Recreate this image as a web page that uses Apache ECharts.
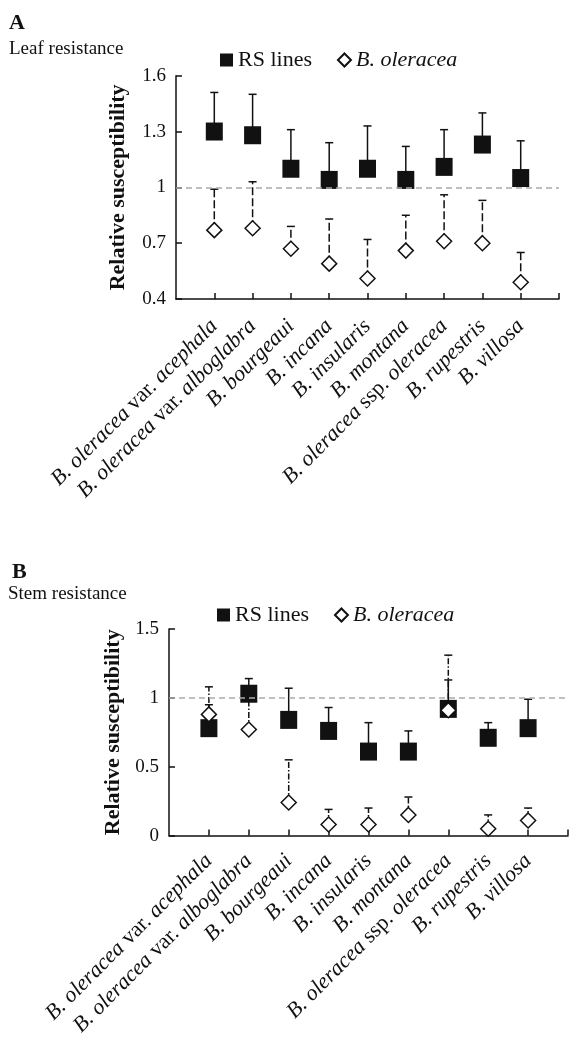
<!DOCTYPE html>
<html>
<head>
<meta charset="utf-8">
<script src="https://cdn.jsdelivr.net/npm/echarts@6/dist/echarts.min.js"></script>
<style>html,body{margin:0;padding:0;background:#fff;}#c{width:570px;height:1039px;}</style>
</head>
<body>
<div id="c"></div>
<script>
const categories = ['B. oleracea var. acephala','B. oleracea var. alboglabra','B. bourgeaui','B. incana','B. insularis','B. montana','B. oleracea ssp. oleracea','B. rupestris','B. villosa'];
const xPos = [1,2,3,4,5,6,7,8,9];
// Panel A: leaf resistance
const rsA = [1.30, 1.28, 1.10, 1.04, 1.10, 1.04, 1.11, 1.23, 1.05];
const rsUpA = [1.51, 1.50, 1.31, 1.24, 1.33, 1.22, 1.31, 1.40, 1.25];
const olA = [0.77, 0.78, 0.67, 0.59, 0.51, 0.66, 0.71, 0.70, 0.49];
const olUpA = [0.99, 1.03, 0.79, 0.83, 0.72, 0.85, 0.96, 0.93, 0.65];
const yTicksA = [0.4, 0.7, 1, 1.3, 1.6];
// Panel B: stem resistance
const rsB = [0.78, 1.03, 0.84, 0.76, 0.61, 0.61, 0.92, 0.71, 0.78];
const rsUpB = [0.95, 1.14, 1.07, 0.93, 0.82, 0.76, 1.13, 0.82, 0.99];
const olB = [0.88, 0.77, 0.24, 0.08, 0.08, 0.15, 0.91, 0.05, 0.11];
const olUpB = [1.08, 1.00, 0.55, 0.19, 0.20, 0.28, 1.31, 0.15, 0.20];
const yTicksB = [0, 0.5, 1, 1.5];

const FF = '"Liberation Serif","Times New Roman",serif';
const chart = echarts.init(document.getElementById('c'), null, {renderer:'canvas'});

function pts(vals){ return vals.map((v,i)=>[xPos[i], v]); }
function errData(vals, ups){ return vals.map((v,i)=>[xPos[i], v, ups[i]]); }
function errSeries(idx, vals, ups, dash, z){
  return {
    type:'custom', xAxisIndex:idx, yAxisIndex:idx, z:z, silent:true,
    encode:{x:0, y:[1,2]},
    data: errData(vals, ups),
    renderItem: function(params, api){
      const a = api.coord([api.value(0), api.value(1)]);
      const b = api.coord([api.value(0), api.value(2)]);
      return {type:'group', children:[
        {type:'line', shape:{x1:a[0], y1:a[1], x2:b[0], y2:b[1]}, style:{stroke:'#111', lineWidth:1.5, lineDash:dash}},
        {type:'line', shape:{x1:b[0]-4, y1:b[1], x2:b[0]+4, y2:b[1]}, style:{stroke:'#111', lineWidth:1.5}}
      ]};
    }
  };
}
function xAxisCfg(idx, margin){
  return {
    type:'value', gridIndex:idx, min:0, max:10,
    axisLine:{lineStyle:{color:'#111', width:1.5}},
    axisTick:{show:true, inside:true, length:6, lineStyle:{color:'#111', width:1.5}, customValues:[1,2,3,4,5,6,7,8,9,10]},
    axisLabel:{
      customValues:xPos, rotate:45, margin:margin,
      fontFamily:FF, fontSize:22, fontStyle:'italic', color:'#111',
      formatter:function(v){ const n = categories[Math.round(v)-1] || ''; return n.replace(/(var\.|ssp\.)/, '{n|$1}'); },
      rich:{n:{fontFamily:FF, fontSize:22, fontStyle:'normal', color:'#111'}}
    },
    splitLine:{show:false}
  };
}
function yAxisCfg(idx, min, max, ticks, gap){
  return {
    type:'value', gridIndex:idx, min:min, max:max,
    name:'Relative susceptibility', nameLocation:'middle', nameRotate:90, nameGap:gap,
    nameTextStyle:{fontFamily:FF, fontSize:22, fontWeight:'bold', color:'#111'},
    axisLine:{show:true, lineStyle:{color:'#111', width:1.5}},
    axisTick:{show:true, inside:true, length:6, lineStyle:{color:'#111', width:1.5}, customValues:ticks},
    axisLabel:{customValues:ticks, margin:10, fontFamily:FF, fontSize:19, color:'#111'},
    splitLine:{show:false}
  };
}
function refLine(){
  return {silent:true, symbol:'none', label:{show:false}, lineStyle:{color:'#aaa', width:1.5, type:[6,4]}, data:[{yAxis:1}]};
}
const legendFmt = function(name){ return name === 'RS lines' ? name : '{it|'+name+'}'; };
function legendCfg(left, top){
  return {
    left:left, top:top, padding:0, itemGap:25, itemWidth:13, itemHeight:13,
    data:[{name:'RS lines', icon:'rect'}, {name:'B. oleracea', icon:'diamond'}],
    textStyle:{fontFamily:FF, fontSize:22, color:'#111', rich:{it:{fontFamily:FF, fontSize:22, fontStyle:'italic', color:'#111'}}},
    formatter:legendFmt, selectedMode:false
  };
}
function rsScatter(idx, vals){
  return {name:'RS lines', type:'scatter', xAxisIndex:idx, yAxisIndex:idx, z:3, symbol:'rect', symbolSize:[17,18],
    itemStyle:{color:'#111', opacity:1}, data:pts(vals), markLine: refLine()};
}
function olScatter(idx, vals){
  return {name:'B. oleracea', type:'scatter', xAxisIndex:idx, yAxisIndex:idx, z:5, symbol:'diamond', symbolSize:15,
    itemStyle:{color:'#fff', borderColor:'#111', borderWidth:1.5, opacity:1}, data:pts(vals)};
}

chart.setOption({
  animation:false,
  backgroundColor:'#fff',
  title:[
    {text:'A', left:9, top:12, padding:0, textStyle:{fontFamily:FF, fontSize:22, fontWeight:'bold', color:'#111'}},
    {text:'Leaf resistance', left:9, top:40, padding:0, textStyle:{fontFamily:FF, fontSize:19, fontWeight:'normal', color:'#111'}},
    {text:'B', left:12, top:561, padding:0, textStyle:{fontFamily:FF, fontSize:22, fontWeight:'bold', color:'#111'}},
    {text:'Stem resistance', left:8, top:585, padding:0, textStyle:{fontFamily:FF, fontSize:19, fontWeight:'normal', color:'#111'}}
  ],
  legend:[legendCfg(220, 49), legendCfg(217, 604)],
  grid:[
    {left:176, top:75.7, width:383, height:223.3, containLabel:false},
    {left:169, top:629, width:399, height:207.7, containLabel:false}
  ],
  xAxis:[xAxisCfg(0, 24), xAxisCfg(1, 22)],
  yAxis:[yAxisCfg(0, 0.4, 1.6, yTicksA, 47), yAxisCfg(1, 0, 1.5, yTicksB, 36)],
  series:[
    errSeries(0, rsA, rsUpA, null, 2),
    rsScatter(0, rsA),
    errSeries(0, olA, olUpA, [8,3], 4),
    olScatter(0, olA),
    errSeries(1, rsB, rsUpB, null, 2),
    rsScatter(1, rsB),
    errSeries(1, olB, olUpB, [6,2,1.5,2], 4),
    olScatter(1, olB)
  ]
});
</script>
</body>
</html>
